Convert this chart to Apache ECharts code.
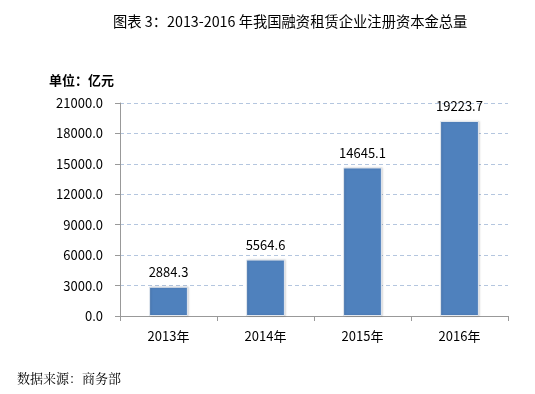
<!DOCTYPE html>
<html><head><meta charset="utf-8">
<script src="https://cdn.jsdelivr.net/npm/echarts@6/dist/echarts.min.js"></script>
<style>html,body{margin:0;padding:0;background:#fff}#c{width:535px;height:394px}</style>
</head><body><div id="c"></div>
<script>
const categories = ['2013年','2014年','2015年','2016年'];
const values = [2884.3, 5564.6, 14645.1, 19223.7];
const yMin = 0, yMax = 21000, yStep = 3000;
const titleText = '图表 3：2013-2016 年我国融资租赁企业注册资本金总量';
const unitText = '单位：亿元';
const sourceText = '数据来源：商务部';

const font = '"Noto Sans CJK SC", "Noto Sans", sans-serif';
const chart = echarts.init(document.getElementById('c'));
chart.setOption({
  animation: false,
  backgroundColor: '#fff',
  textStyle: {fontFamily: font},
  title: [
    {text: titleText, left: 108, top: 9, textStyle: {fontSize: 14.3, fontWeight: 'normal', color: '#000', fontFamily: font}},
    {text: unitText, left: 44, top: 69, textStyle: {fontSize: 13, fontWeight: 'bold', color: '#000', fontFamily: font}},
    {text: sourceText, left: 12, top: 367, textStyle: {fontSize: 13, fontWeight: 'normal', color: '#000', fontFamily: '"Noto Serif CJK SC", "Noto Sans CJK SC", serif'}}
  ],
  grid: {left: 120, right: 27, top: 103, bottom: 78, containLabel: false},
  xAxis: {
    type: 'category', data: categories,
    axisLine: {lineStyle: {color: '#999', width: 1}},
    axisTick: {show: true, alignWithLabel: false, length: 5, lineStyle: {color: '#999'}},
    axisLabel: {color: '#000', fontSize: 13, margin: 14, fontFamily: font}
  },
  yAxis: {
    type: 'value', min: yMin, max: yMax, interval: yStep,
    axisLine: {show: true, lineStyle: {color: '#999', width: 1}},
    axisTick: {show: true, length: 5, lineStyle: {color: '#999'}},
    axisLabel: {color: '#000', fontSize: 13, margin: 17, formatter: v => v.toFixed(1), fontFamily: font},
    splitLine: {show: true, lineStyle: {color: '#b4c6df', type: [4, 3], width: 1.2}}
  },
  series: [{
    type: 'bar', data: values, barWidth: '40%',
    itemStyle: {color: '#4f81bd', borderColor: '#e3e8ef', borderWidth: 1, shadowColor: 'rgba(0,0,0,0.15)', shadowBlur: 2, shadowOffsetX: 1},
    label: {show: true, position: 'top', distance: 8, color: '#000', fontSize: 13, formatter: p => p.value.toFixed(1), fontFamily: font}
  }]
});
</script></body></html>
